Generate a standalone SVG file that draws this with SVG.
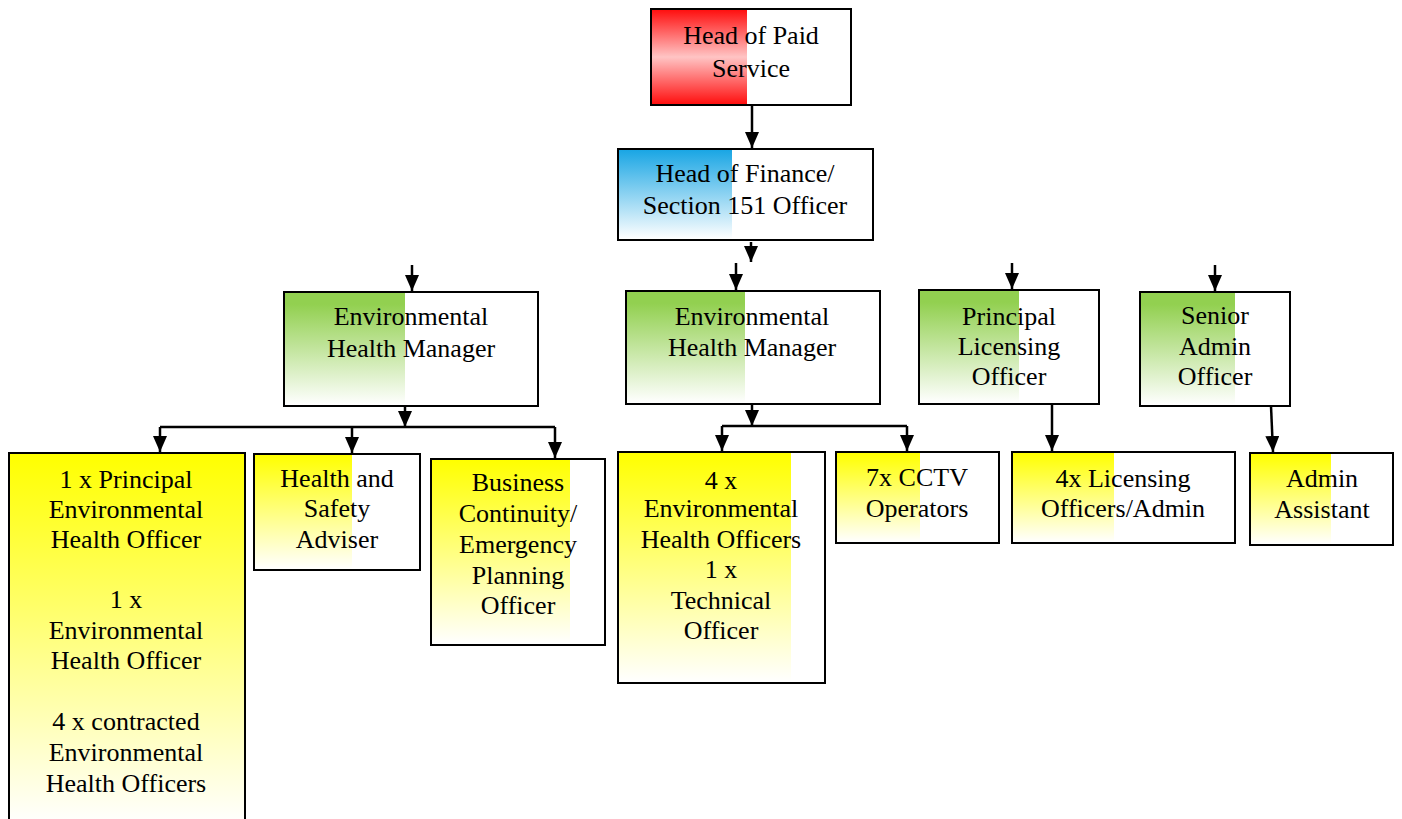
<svg xmlns="http://www.w3.org/2000/svg" width="1402" height="819" viewBox="0 0 1402 819">
<style>
.box{fill:#ffffff;stroke:#000000;stroke-width:2}
.t{font-family:"Liberation Serif","Times New Roman","DejaVu Serif",serif;font-size:26px;fill:#000000;text-anchor:middle}
.c{fill:none;stroke:#000000;stroke-width:2.5}
</style>
<defs>
<linearGradient id="gY" x1="0" y1="0" x2="0" y2="1"><stop offset="0" stop-color="#ffff00"/><stop offset="1" stop-color="#ffffff"/></linearGradient>
<linearGradient id="gG" x1="0" y1="0" x2="0" y2="1"><stop offset="0.1" stop-color="#92d050"/><stop offset="1" stop-color="#ffffff"/></linearGradient>
<linearGradient id="gB" x1="0" y1="0" x2="0" y2="1"><stop offset="0" stop-color="#1aa6e4"/><stop offset="1" stop-color="#ffffff"/></linearGradient>
<linearGradient id="gR" x1="0" y1="0" x2="0" y2="1"><stop offset="0" stop-color="#ff1010"/><stop offset="0.5" stop-color="#ffc4c4"/><stop offset="1" stop-color="#ff1010"/></linearGradient>
<marker id="ah" markerUnits="userSpaceOnUse" markerWidth="16" markerHeight="14" viewBox="0 0 16 14" refX="16" refY="7" orient="auto">
<path d="M0,0 L16,7 L0,14 Z" fill="#000000"/>
</marker>
</defs>

<g id="connectors">
<line class="c" x1="752" y1="105" x2="752" y2="148" marker-end="url(#ah)"/>
<line class="c" x1="751" y1="242" x2="751" y2="262" marker-end="url(#ah)"/>
<line class="c" x1="736" y1="263" x2="736" y2="290" marker-end="url(#ah)"/>
<line class="c" x1="412" y1="265" x2="412" y2="291" marker-end="url(#ah)"/>
<line class="c" x1="1012" y1="263" x2="1012" y2="289" marker-end="url(#ah)"/>
<line class="c" x1="1215" y1="265" x2="1215" y2="291" marker-end="url(#ah)"/>
<line class="c" x1="405" y1="406" x2="405" y2="427" marker-end="url(#ah)"/>
<path class="c" d="M160,427 H555"/>
<line class="c" x1="160" y1="427" x2="160" y2="452" marker-end="url(#ah)"/>
<line class="c" x1="352" y1="427" x2="352" y2="453" marker-end="url(#ah)"/>
<line class="c" x1="555" y1="427" x2="555" y2="458" marker-end="url(#ah)"/>
<line class="c" x1="752" y1="404" x2="752" y2="426" marker-end="url(#ah)"/>
<path class="c" d="M722,426 H907"/>
<line class="c" x1="722" y1="426" x2="722" y2="451" marker-end="url(#ah)"/>
<line class="c" x1="907" y1="426" x2="907" y2="451" marker-end="url(#ah)"/>
<line class="c" x1="1052" y1="404" x2="1052" y2="451" marker-end="url(#ah)"/>
<line class="c" x1="1271" y1="406" x2="1273" y2="452" marker-end="url(#ah)"/>
</g>

<g id="head-paid-service">
<rect class="box" x="651" y="9" width="200" height="96"/>
<rect x="652" y="10" width="95" height="94" fill="url(#gR)"/>
<text class="t" x="751" y="44">Head of Paid</text>
<text class="t" x="751" y="77">Service</text>
</g>

<g id="head-finance">
<rect class="box" x="618" y="149" width="255" height="91"/>
<rect x="619" y="150" width="113" height="89" fill="url(#gB)"/>
<text class="t" x="745" y="182">Head of Finance/</text>
<text class="t" x="745" y="214">Section 151 Officer</text>
</g>

<g id="ehm-1">
<rect class="box" x="284" y="292" width="254" height="114"/>
<rect x="285" y="293" width="120" height="112" fill="url(#gG)"/>
<text class="t" x="411" y="325">Environmental</text>
<text class="t" x="411" y="357">Health Manager</text>
</g>

<g id="ehm-2">
<rect class="box" x="626" y="291" width="254" height="113"/>
<rect x="627" y="292" width="118" height="111" fill="url(#gG)"/>
<text class="t" x="752" y="325">Environmental</text>
<text class="t" x="752" y="356">Health Manager</text>
</g>

<g id="principal-licensing">
<rect class="box" x="919" y="290" width="180" height="114"/>
<rect x="920" y="291" width="99" height="112" fill="url(#gG)"/>
<text class="t" x="1009" y="325">Principal</text>
<text class="t" x="1009" y="355">Licensing</text>
<text class="t" x="1009" y="385">Officer</text>
</g>

<g id="senior-admin">
<rect class="box" x="1140" y="292" width="150" height="114"/>
<rect x="1141" y="293" width="94" height="112" fill="url(#gG)"/>
<text class="t" x="1215" y="324">Senior</text>
<text class="t" x="1215" y="355">Admin</text>
<text class="t" x="1215" y="385">Officer</text>
</g>

<g id="principal-ehos">
<rect class="box" x="9" y="453" width="236" height="372"/>
<rect x="10" y="454" width="234" height="370" fill="url(#gY)"/>
<text class="t" x="126" y="488">1 x Principal</text>
<text class="t" x="126" y="518">Environmental</text>
<text class="t" x="126" y="548">Health Officer</text>
<text class="t" x="126" y="608">1 x</text>
<text class="t" x="126" y="639">Environmental</text>
<text class="t" x="126" y="669">Health Officer</text>
<text class="t" x="126" y="730">4 x contracted</text>
<text class="t" x="126" y="761">Environmental</text>
<text class="t" x="126" y="792">Health Officers</text>
</g>

<g id="health-safety">
<rect class="box" x="254" y="454" width="166" height="116"/>
<rect x="255" y="455" width="97" height="114" fill="url(#gY)"/>
<text class="t" x="337" y="487">Health and</text>
<text class="t" x="337" y="517">Safety</text>
<text class="t" x="337" y="548">Adviser</text>
</g>

<g id="business-continuity">
<rect class="box" x="431" y="459" width="174" height="186"/>
<rect x="432" y="460" width="138" height="184" fill="url(#gY)"/>
<text class="t" x="518" y="491">Business</text>
<text class="t" x="518" y="522">Continuity/</text>
<text class="t" x="518" y="553">Emergency</text>
<text class="t" x="518" y="584">Planning</text>
<text class="t" x="518" y="614">Officer</text>
</g>

<g id="ehos-technical">
<rect class="box" x="618" y="452" width="207" height="231"/>
<rect x="619" y="453" width="172" height="229" fill="url(#gY)"/>
<text class="t" x="721" y="489">4 x</text>
<text class="t" x="721" y="517">Environmental</text>
<text class="t" x="721" y="548">Health Officers</text>
<text class="t" x="721" y="578">1 x</text>
<text class="t" x="721" y="609">Technical</text>
<text class="t" x="721" y="639">Officer</text>
</g>

<g id="cctv">
<rect class="box" x="836" y="452" width="163" height="91"/>
<rect x="837" y="453" width="83" height="89" fill="url(#gY)"/>
<text class="t" x="917" y="486">7x CCTV</text>
<text class="t" x="917" y="517">Operators</text>
</g>

<g id="licensing-officers">
<rect class="box" x="1012" y="452" width="223" height="91"/>
<rect x="1013" y="453" width="101" height="89" fill="url(#gY)"/>
<text class="t" x="1123" y="487">4x Licensing</text>
<text class="t" x="1123" y="517">Officers/Admin</text>
</g>

<g id="admin-assistant">
<rect class="box" x="1250" y="453" width="143" height="92"/>
<rect x="1251" y="454" width="80" height="90" fill="url(#gY)"/>
<text class="t" x="1322" y="487">Admin</text>
<text class="t" x="1322" y="518">Assistant</text>
</g>
</svg>
